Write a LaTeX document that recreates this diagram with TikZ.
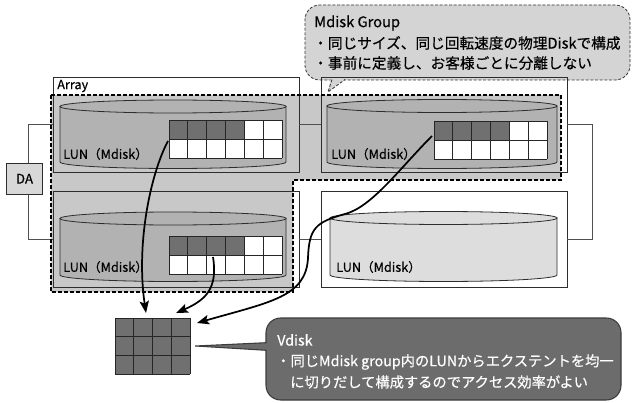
\documentclass[tikz,border=0pt]{standalone}
\usepackage{fontspec}
\setmainfont{Noto Sans CJK JP}[FakeBold=0.4]
\usetikzlibrary{fit,arrows.meta}
\definecolor{regiongray}{RGB}{200,200,200}
\definecolor{cylgray}{RGB}{178,178,178}
\definecolor{cyllight}{RGB}{221,221,221}
\definecolor{darkcell}{RGB}{112,112,112}
\definecolor{edgecol}{RGB}{45,45,45}
\definecolor{conncol}{RGB}{80,80,80}
\definecolor{mgfill}{RGB}{212,212,212}
\definecolor{vdfill}{RGB}{108,108,108}
\definecolor{vdedge}{RGB}{60,60,60}
\definecolor{dafill}{RGB}{216,216,216}

\newcommand{\lungrid}[2]{%
  \fill[white] (#1,#2) rectangle ++(113,38);
  \fill[darkcell] (#1,#2) rectangle ++(75.33,19);
  \foreach \k in {0,...,6} \draw[cellline] ({#1+\k*18.833},#2) -- ++(0,38);
  \foreach \k in {0,1,2} \draw[cellline] (#1,{#2+\k*19}) -- ++(113,0);
}
\newcommand{\lundisk}[5]{%
  \pgfmathsetmacro\cylcx{(#1+#2)/2}%
  \pgfmathsetmacro\cylrx{(#2-#1)/2}%
  \filldraw[cylline, fill=#5] (#1,#3) -- (#1,#4) arc[start angle=180, end angle=0, x radius=\cylrx, y radius=6.5] -- (#2,#3) -- cycle;
  \filldraw[cylline, fill=#5] (\cylcx,#3) ellipse[x radius=\cylrx, y radius=6.5];
}

\begin{document}
\begin{tikzpicture}[x=0.75pt,y=-0.75pt,
  box/.style={draw=edgecol, line width=0.7pt, inner sep=0pt},
  conn/.style={draw=conncol, line width=0.6pt},
  cellline/.style={draw=black!85, line width=0.7pt},
  cylline/.style={draw=edgecol, line width=0.6pt},
  lbl/.style={font=\fontsize{9.5}{11}\selectfont, anchor=west, inner sep=0pt},
  ctext/.style={font=\fontsize{11}{13}\selectfont, anchor=west, inner sep=0pt},
  vtext/.style={font=\fontsize{10.7}{13}\selectfont, anchor=west, inner sep=0pt, text=white},
  arr/.style={draw=black, line width=1.3pt, -{Stealth[length=9pt,width=7pt,inset=1.8pt]}},
  dashline/.style={dash pattern=on 2.2pt off 1.3pt},
]
\useasboundingbox (0,0) rectangle (632,403);

% Mdisk group callout
\node[draw=black!80, fill=mgfill, dashline, line width=0.6pt, rounded corners=11pt, inner sep=0pt, fit={(305,5) (630,80)}] (mg) {};
\fill[mgfill] (331,78) -- (346,78) -- (328,92) -- cycle;
\draw[black!80, dashline, line width=0.6pt] (332,79.5) -- (328,92) -- (345,79.5);
\node[ctext] (mgt) at (314,23) {Mdisk Group};
\node[ctext] (mg1) at (313,43) {・同じサイズ、同じ回転速度の物理Diskで構成};
\node[ctext] (mg2) at (313,63) {・事前に定義し、お客様ごとに分離しない};

% Mdisk group region fill
\fill[regiongray] (51,95) -- (561,95) -- (561,180) -- (293,180) -- (293,292) -- (51,292) -- cycle;

% boxes
\node[box, fit={(53,77) (299,172)}] (b1) {};
\node[box, fit={(321,77) (567,172)}] (b2) {};
\node[box, fit={(53,191) (299,287)}] (b3) {};
\node[box, fit={(321,191) (567,287)}] (b4) {};
\node[box, fill=dafill, fit={(6.5,163) (42.5,194.5)}] (da) {};
\node[font=\fontsize{10}{12}\selectfont] (dat) at (da.center) {DA};
\node[lbl] (arrl) at (57,86) {Array};

% connectors
\draw[conn] ([xshift=2.8pt]da.north) |- (b1.west);
\draw[conn] ([xshift=2.8pt]da.south) |- (b3.west);
\draw[conn] (b1.east) -- (b2.west);
\draw[conn] (b3.east) -- (b4.west);
\draw[conn] (b2.east) -- ++(25,0) |- (b4.east);

% disks
\lundisk{60}{286}{106.5}{162}{cylgray}
\lundisk{327}{557}{106}{162}{cylgray}
\lundisk{60}{286}{218.5}{275}{cylgray}
\lundisk{330}{557}{218}{275}{cyllight}
\lungrid{169}{120}
\lungrid{434}{121}
\lungrid{169}{236}
\node[lbl] (l1) at (63,154) {LUN（Mdisk）};
\node[lbl] (l2) at (331,154) {LUN（Mdisk）};
\node[lbl] (l3) at (63,267) {LUN（Mdisk）};
\node[lbl] (l4) at (336,267) {LUN（Mdisk）};

% region border
\draw[black, line width=0.9pt, dash pattern=on 3pt off 1.5pt] (51,95) -- (561,95) -- (561,180) -- (293,180) -- (293,292) -- (51,292) -- cycle;

% Vdisk
\node[inner sep=0pt, fit={(115,318) (190,374)}] (vd) {};
\fill[darkcell] (115,318) rectangle (190,374);
\foreach \k in {0,...,4} \draw[cellline] ({115+\k*18.75},318) -- ++(0,56);
\foreach \k in {0,...,3} \draw[cellline] (115,{318+\k*18.667}) -- ++(75,0);

% Vdisk callout
\node[draw=vdedge, fill=vdfill, line width=0.8pt, rounded corners=11pt, inner sep=0pt, fit={(266,318) (621,400)}] (vc) {};
\coordinate (vtip) at ([xshift=3.75pt]vd.east);
\fill[vdfill] (vtip) -- (268,342.5) -- (268,350.5) -- cycle;
\draw[vdedge, line width=0.8pt] (266.4,342.7) -- (vtip) -- (266.4,350.3);
\node[vtext] (vt0) at (277,340) {Vdisk};
\node[vtext] (vt1) at (276,362) {・同じMdisk group内のLUNからエクステントを均一};
\node[vtext] (vt2) at (290,382) {に切りだして構成するのでアクセス効率がよい};

% arrows
\coordinate (s1) at (168,141);
\coordinate (s2) at (213,257);
\coordinate (s3) at (432,136);
\coordinate (t1) at (146,313);
\coordinate (t2) at (176,313);
\coordinate (t3) at (197,323);
\draw[arr] (s1) .. controls (150,175) and (136,245) .. (t1);
\draw[arr] (s2) .. controls (218,288) and (206,300) .. (t2);
\draw[arr] (s3) .. controls (400,168) and (372,207) .. (345,214) .. controls (316,222) and (309,228) .. (308,258) .. controls (306,297) and (270,302) .. (t3);
\end{tikzpicture}
\end{document}
